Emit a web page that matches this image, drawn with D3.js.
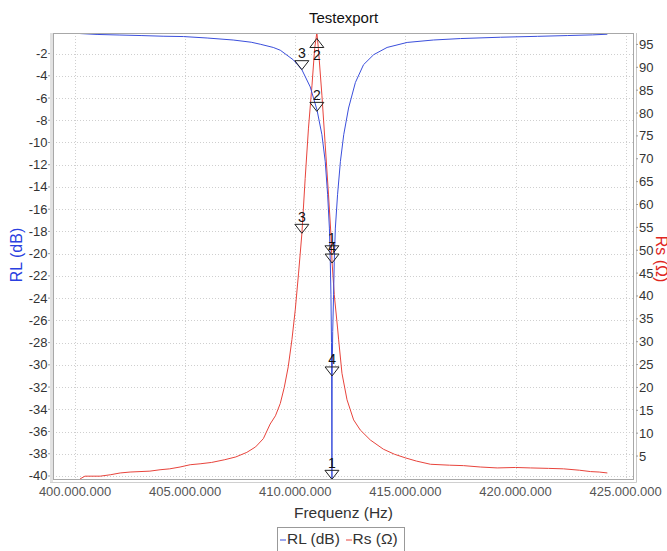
<!DOCTYPE html>
<html>
<head>
<meta charset="utf-8">
<script src="https://cdn.jsdelivr.net/npm/d3@7/dist/d3.min.js"></script>
<style>
  body { margin: 0; background: #fff; }
  svg { display: block; font-family: "Liberation Sans", Arial, sans-serif; }
</style>
</head>
<body>
<div id="chart"></div>
<script>
// frequencies are in MHz, labels are drawn in Hz
const rlFreq = [400.23, 401.0, 402.0, 403.0, 404.0, 404.92, 406.0, 407.18, 408.0, 408.41, 409.0, 409.32,
  409.92, 410.30, 410.68, 410.99, 411.21, 411.36, 411.47, 411.55, 411.59, 411.62, 411.645, 411.665,
  411.675, 411.70, 411.74, 411.77, 411.82, 411.92, 412.05, 412.20, 412.42, 412.73, 413.10, 413.56,
  414.17, 415.08, 416.27, 417.5, 419.32, 421.0, 422.35, 423.5, 424.17];
const rlValues = [-0.2, -0.28, -0.33, -0.38, -0.44, -0.47, -0.6, -0.78, -0.98, -1.16, -1.45, -1.7,
  -2.58, -3.45, -5.0, -7.1, -9.3, -11.7, -14.7, -17.7, -20.7, -23.7, -28.0, -40.3,
  -31.0, -27.0, -23.7, -20.7, -17.7, -14.7, -11.7, -9.3, -6.9, -4.6, -3.0, -2.1,
  -1.45, -1.0, -0.78, -0.65, -0.53, -0.45, -0.38, -0.32, -0.26];

const rsFreq = [400.23, 400.45, 401.14, 401.6, 402.05, 402.5, 402.95, 403.4, 403.86, 404.3, 404.77,
  405.23, 405.68, 406.2, 406.8, 407.3, 407.8, 408.2, 408.55, 408.86, 409.1, 409.32, 409.5, 409.68,
  409.85, 410.0, 410.15, 410.30, 410.45, 410.60, 410.76, 410.88, 410.98, 411.05, 411.21, 411.36,
  411.51, 411.62, 411.67, 411.77, 411.92, 411.97, 412.12, 412.35, 412.65, 412.95, 413.41, 414.0,
  414.5, 415.0, 415.5, 416.14, 417.0, 417.64, 418.4, 419.17, 420.0, 420.68, 421.5, 422.18, 422.9,
  423.41, 423.8, 424.17];
const rsValues = [0.0, 0.6, 0.6, 0.9, 1.3, 1.5, 1.6, 1.7, 2.0, 2.2, 2.6,
  3.1, 3.3, 3.6, 4.2, 4.8, 5.8, 7.0, 8.8, 12.0, 13.8, 16.5, 20.0, 24.5,
  30.5, 37.0, 45.0, 53.6, 65.7, 76.7, 86.1, 94.1, 97.6, 94.1, 83.9, 73.0,
  62.1, 53.4, 47.4, 40.3, 33.0, 30.4, 23.1, 17.3, 12.9, 10.7, 8.5, 6.5,
  5.4, 4.6, 3.9, 3.2, 3.0, 2.9, 2.6, 2.4, 2.5, 2.4, 2.3, 2.2, 1.9,
  1.6, 1.5, 1.3];

const xTicks = [400, 405, 410, 415, 420, 425];
const rlTicks = [-2, -4, -6, -8, -10, -12, -14, -16, -18, -20, -22, -24, -26, -28, -30, -32, -34, -36, -38, -40];
const rsTicks = [5, 10, 15, 20, 25, 30, 35, 40, 45, 50, 55, 60, 65, 70, 75, 80, 85, 90, 95];

// markers: label, frequency, value on RL and on Rs
const markerIds = ["1", "2", "3", "4"];
const markerFreq = [411.665, 410.98, 410.30, 411.67];
const markerRL = [-40.3, -7.2, -3.45, -31.0];
const markerRS = [49.0, 96.3, 53.7, 47.2];

const width = 667, height = 551;
const plotLeft = 53, plotRight = 634, plotTop = 33, plotBottom = 480;
const blue = "#3b4fdc", red = "#e8443c";

const svg = d3.select("#chart").append("svg")
  .attr("width", width)
  .attr("height", height);

const x = d3.scaleLinear().domain([399.0, 425.38]).range([plotLeft, plotRight]);
const yRL = d3.scaleLinear().domain([-40.36, -0.15]).range([plotBottom, plotTop]);
const yRS = d3.scaleLinear().domain([-0.24, 97.5]).range([plotBottom, plotTop]);

const hz = d3.format(",");
const fmtHz = (v) => hz(Math.round(v * 1e6)).replace(/,/g, ".");

// grid
const grid = svg.append("g").attr("stroke", "#cfcfcf").attr("stroke-dasharray", "1,2");
grid.selectAll("line.h").data(rlTicks).enter().append("line")
  .attr("x1", plotLeft).attr("x2", plotRight)
  .attr("y1", (d) => Math.round(yRL(d)) + 0.5).attr("y2", (d) => Math.round(yRL(d)) + 0.5);
grid.selectAll("line.v").data(xTicks).enter().append("line")
  .attr("y1", plotTop).attr("y2", plotBottom)
  .attr("x1", (d) => Math.round(x(d)) + 0.5).attr("x2", (d) => Math.round(x(d)) + 0.5);

svg.append("clipPath").attr("id", "plot").append("rect")
  .attr("x", plotLeft).attr("y", plotTop).attr("width", plotRight - plotLeft).attr("height", plotBottom - plotTop);

// curves
const rlLine = d3.line().x((d, i) => x(rlFreq[i])).y((d) => yRL(d));
const rsLine = d3.line().x((d, i) => x(rsFreq[i])).y((d) => yRS(d));

const curves = svg.append("g").attr("clip-path", "url(#plot)").attr("fill", "none").attr("stroke-width", 1);
curves.append("path").attr("d", rsLine(rsValues)).attr("stroke", red);
curves.append("path").attr("d", rlLine(rlValues)).attr("stroke", blue);

// markers (triangle points at the value, label next to it)
function drawMarker(px, py, label) {
  const up = py < plotTop + 20; // near the top edge the triangle flips
  const g = svg.append("g");
  const w = 7, h = 9;
  const pts = up
    ? [[px, py], [px - w, py + h], [px + w, py + h]]
    : [[px, py], [px - w, py - h], [px + w, py - h]];
  g.append("path")
    .attr("d", "M" + pts.map((p) => p.join(",")).join("L") + "Z")
    .attr("fill", "none").attr("stroke", "#222").attr("stroke-width", 1);
  g.append("text")
    .attr("x", px).attr("y", up ? py + h + 13 : py - h - 2.5)
    .attr("text-anchor", "middle")
    .attr("font-size", 14)
    .attr("fill", "#111")
    .text(label);
}

markerIds.forEach((id, i) => {
  drawMarker(x(markerFreq[i]), yRS(markerRS[i]), id);
  drawMarker(x(markerFreq[i]), yRL(markerRL[i]), id);
});

// frame
svg.append("rect").attr("x", plotLeft - 3).attr("y", plotTop).attr("width", 3).attr("height", plotBottom - plotTop + 3).attr("fill", "#e2e2e2");
svg.append("line").attr("x1", plotLeft - 3).attr("x2", plotRight + 2.5).attr("y1", plotBottom + 2.5).attr("y2", plotBottom + 2.5).attr("stroke", "#d0d0d0");
svg.append("line").attr("x1", plotRight + 2.5).attr("x2", plotRight + 2.5).attr("y1", plotTop).attr("y2", plotBottom + 2.5).attr("stroke", "#c8c8c8");
svg.append("rect").attr("x", plotLeft + 0.5).attr("y", plotTop + 0.5)
  .attr("width", plotRight - plotLeft - 1).attr("height", plotBottom - plotTop - 1)
  .attr("fill", "none").attr("stroke", "#a8a8a8");

// axes
const leftAxis = svg.append("g").attr("font-size", 13).attr("fill", "#333").attr("text-anchor", "end");
rlTicks.forEach((t) => {
  leftAxis.append("text").attr("x", plotLeft - 5.5).attr("y", yRL(t) + 4.5).text(t);
  leftAxis.append("line").attr("x1", plotLeft - 5).attr("x2", plotLeft - 3).attr("y1", yRL(t)).attr("y2", yRL(t)).attr("stroke", "#999");
});

const rightAxis = svg.append("g").attr("font-size", 13).attr("fill", "#333");
rsTicks.forEach((t) => {
  rightAxis.append("text").attr("x", plotRight + 5).attr("y", yRS(t) + 4.5).text(t);
  rightAxis.append("line").attr("x1", plotRight + 2).attr("x2", plotRight + 4).attr("y1", yRS(t)).attr("y2", yRS(t)).attr("stroke", "#999");
});

const bottomAxis = svg.append("g").attr("font-size", 13).attr("fill", "#555").attr("text-anchor", "middle");
xTicks.forEach((t) => {
  bottomAxis.append("text").attr("x", x(t)).attr("y", plotBottom + 16).text(fmtHz(t));
});

// titles
svg.append("text").attr("x", (plotLeft + plotRight) / 2).attr("y", 23)
  .attr("text-anchor", "middle").attr("font-size", 15).attr("fill", "#111")
  .text("Testexport");

svg.append("text").attr("x", (plotLeft + plotRight) / 2).attr("y", 518)
  .attr("text-anchor", "middle").attr("font-size", 15.5).attr("fill", "#333")
  .text("Frequenz (Hz)");

svg.append("text")
  .attr("transform", "translate(22,255) rotate(-90)")
  .attr("text-anchor", "middle").attr("font-size", 16).attr("fill", "#2a3fe0")
  .text("RL (dB)");

svg.append("text")
  .attr("transform", "translate(656,259) rotate(90)")
  .attr("text-anchor", "middle").attr("font-size", 16).attr("fill", "#e0261f")
  .text("Rs (Ω)");

// legend
const legend = svg.append("g");
legend.append("rect").attr("x", 277.5).attr("y", 527.5).attr("width", 127).attr("height", 30)
  .attr("fill", "#fff").attr("stroke", "#999");
legend.append("line").attr("x1", 280).attr("x2", 286).attr("y1", 540).attr("y2", 540).attr("stroke", blue);
legend.append("text").attr("x", 287).attr("y", 544).attr("font-size", 15.5).attr("fill", "#333").text("RL (dB)");
legend.append("line").attr("x1", 346).attr("x2", 352).attr("y1", 540).attr("y2", 540).attr("stroke", red);
legend.append("text").attr("x", 352.5).attr("y", 544).attr("font-size", 15.5).attr("fill", "#333").text("Rs (Ω)");
</script>
</body>
</html>
